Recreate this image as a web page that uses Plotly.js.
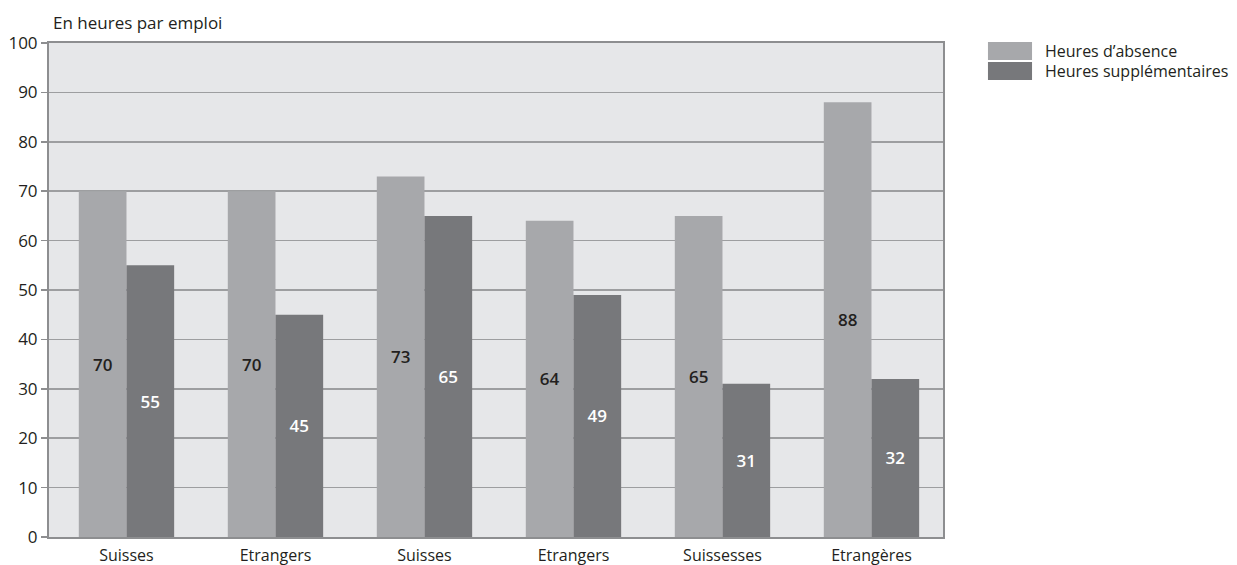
<!DOCTYPE html>
<html>
<head>
<meta charset="utf-8">
<script src="https://cdn.plot.ly/plotly-3.0.1.min.js"></script>
<style>html,body{margin:0;padding:0;background:#fff}#chart{width:1237px;height:565px}</style>
</head>
<body>
<div id="chart"></div>
<script>
const categories = ["Suisses", "Etrangers", "Suisses", "Etrangers", "Suissesses", "Etrangères"];
const absence = [70, 70, 73, 64, 65, 88];
const supplementaires = [55, 45, 65, 49, 31, 32];
const seriesNames = ["Heures d\u2019absence", "Heures supplémentaires"];
const yTicks = [0, 10, 20, 30, 40, 50, 60, 70, 80, 90, 100];

const xPos = categories.map((c, i) => i);
const FONT = "Open Sans, Lato, sans-serif";
const LIGHT = "#a7a8ab";
const DARK = "#77787b";

const traces = [
  {type: "bar", x: xPos, y: absence, name: seriesNames[0], marker: {color: LIGHT},
   text: absence.map(String), textposition: "inside", insidetextanchor: "middle",
   textfont: {family: FONT, size: 17, color: "#231f20", weight: 600}, showlegend: false, hoverinfo: "y"},
  {type: "bar", x: xPos, y: supplementaires, name: seriesNames[1], marker: {color: DARK},
   text: supplementaires.map(String), textposition: "inside", insidetextanchor: "middle",
   textfont: {family: FONT, size: 17, color: "#ffffff", weight: 600}, showlegend: false, hoverinfo: "y"}
];

const layout = {
  width: 1237, height: 565,
  margin: {l: 49, r: 294, t: 43, b: 28},
  paper_bgcolor: "#ffffff",
  plot_bgcolor: "#e6e7e9",
  barmode: "group",
  bargap: 0.36,
  bargroupgap: 0,
  font: {family: FONT, color: "#231f20", size: 16},
  xaxis: {
    tickvals: xPos, ticktext: categories, range: [-0.52, categories.length - 0.52],
    showgrid: false, zeroline: false, showline: true, linecolor: "#8d8e90", linewidth: 2,
    mirror: true, ticks: "", ticklabelstandoff: 3, tickfont: {size: 16, color: "#231f20"}
  },
  yaxis: {
    range: [0, 100], tickvals: yTicks, ticktext: yTicks.map(String),
    showgrid: true, gridcolor: "#9d9ea0", gridwidth: 1.5, zeroline: false,
    showline: true, linecolor: "#8d8e90", linewidth: 2, mirror: true,
    ticks: "outside", ticklen: 6, tickcolor: "#8d8e90", tickwidth: 1.5,
    tickfont: {size: 17, color: "#231f20"}
  },
  annotations: [
    {xref: "paper", yref: "paper", x: 0.002, y: 1.0425, xanchor: "left", yanchor: "middle",
     text: "En heures par emploi", showarrow: false, font: {size: 17, color: "#231f20"}},
    {xref: "paper", yref: "paper", x: 1.1119, y: 0.9838, xanchor: "left", yanchor: "middle",
     text: seriesNames[0], showarrow: false, font: {size: 16, color: "#231f20"}},
    {xref: "paper", yref: "paper", x: 1.1119, y: 0.9433, xanchor: "left", yanchor: "middle",
     text: seriesNames[1], showarrow: false, font: {size: 16, color: "#231f20"}}
  ],
  shapes: [
    {type: "rect", xref: "paper", yref: "paper", x0: 1.0503, x1: 1.0996, y0: 0.9656, y1: 1.002, fillcolor: LIGHT, line: {width: 0}},
    {type: "rect", xref: "paper", yref: "paper", x0: 1.0503, x1: 1.0996, y0: 0.925, y1: 0.9615, fillcolor: DARK, line: {width: 0}}
  ]
};

Plotly.newPlot("chart", traces, layout, {displayModeBar: false, staticPlot: true});
</script>
</body>
</html>
